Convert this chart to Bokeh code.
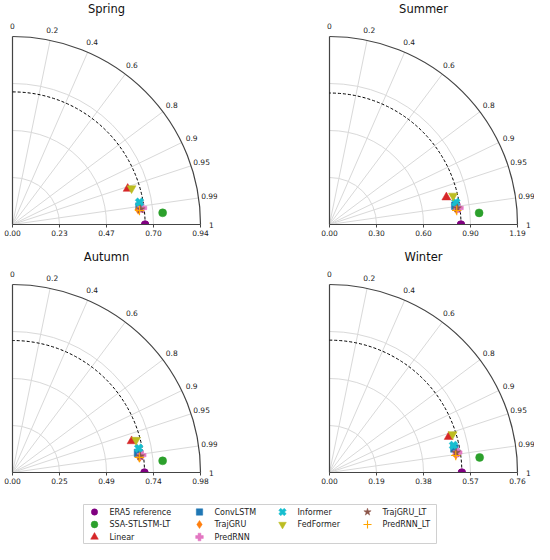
import numpy as np
from bokeh.plotting import figure
from bokeh.layouts import column, row
from bokeh.models import FixedTicker, Range1d
from bokeh.embed import file_html
from bokeh.resources import INLINE
from bokeh.core.properties import value

# ---------------- data ----------------
seasons = ["Spring", "Summer", "Autumn", "Winter"]
std_max = [0.94, 1.194, 0.98, 0.76]
std_tick_labels = [
    ["0.00", "0.23", "0.47", "0.70", "0.94"],
    ["0.00", "0.30", "0.60", "0.90", "1.19"],
    ["0.00", "0.25", "0.49", "0.74", "0.98"],
    ["0.00", "0.19", "0.38", "0.57", "0.76"],
]
corr_grid = [0.2, 0.4, 0.6, 0.8, 0.9, 0.95, 0.99]
corr_label_values = [0.0, 0.2, 0.4, 0.6, 0.8, 0.9, 0.95, 0.99, 1.0]
corr_labels = ["0", "0.2", "0.4", "0.6", "0.8", "0.9", "0.95", "0.99", "1"]

models = ["ERA5   reference", "SSA-STLSTM-LT", "Linear", "ConvLSTM", "TrajGRU",
          "PredRNN", "Informer", "FedFormer", "TrajGRU_LT", "PredRNN_LT"]

std_spring = [0.663, 0.753, 0.603, 0.641, 0.633, 0.654, 0.645, 0.622, 0.645, 0.639]
corr_spring = [1.0, 0.997, 0.955, 0.990, 0.993, 0.992, 0.985, 0.957, 0.993, 0.994]
std_summer = [0.835, 0.953, 0.762, 0.807, 0.812, 0.828, 0.814, 0.806, 0.818, 0.813]
corr_summer = [1.0, 0.997, 0.974, 0.989, 0.993, 0.992, 0.985, 0.974, 0.992, 0.994]
std_autumn = [0.688, 0.785, 0.642, 0.662, 0.667, 0.679, 0.670, 0.666, 0.671, 0.666]
corr_autumn = [1.0, 0.997, 0.967, 0.988, 0.993, 0.991, 0.982, 0.967, 0.992, 0.993]
std_winter = [0.535, 0.610, 0.503, 0.514, 0.516, 0.524, 0.513, 0.521, 0.518, 0.515]
corr_winter = [1.0, 0.995, 0.958, 0.982, 0.990, 0.988, 0.977, 0.955, 0.988, 0.991]

std_all = [std_spring, std_summer, std_autumn, std_winter]
corr_all = [corr_spring, corr_summer, corr_autumn, corr_winter]

# ---------------- styles ----------------
markers = ["circle", "circle", "triangle", "square", "diamond", "plus", "plus",
           "inverted_triangle", "star", "cross"]
colors = ["#800080", "#2ca02c", "#d62728", "#1f77b4", "#ff7f0e", "#e377c2",
          "#17becf", "#bcbd22", "#8c564b", "#ffa500"]
sizes = [7.5, 8, 9, 7.5, 9.5, 9, 9, 9, 9, 9.5]
angles = [0, 0, 0, 0, 0, 0, np.pi / 4, 0, 0, 0]

FONT = "DejaVu Sans"
R = 188          # px radius of diagram
PAD_L, PAD_R, PAD_T, PAD_B = 12, 17, 36, 24
LEFT_W = 317


def add_marker(p, j, x, y, scale=1.0):
    mk = markers[j]
    if mk == "cross":
        return p.scatter(x=x, y=y, marker=mk, size=sizes[j] * scale,
                         line_color=colors[j], line_width=1.1)
    return p.scatter(x=x, y=y, marker=mk, size=sizes[j] * scale, angle=angles[j],
                     fill_color=colors[j], line_color=colors[j], line_width=0.5)


def panel(i, left_col):
    m = std_max[i]
    k = m / R
    fw = PAD_L + R + PAD_R
    p = figure(frame_width=fw, frame_height=PAD_B + R + PAD_T,
               x_range=Range1d(-PAD_L * k, (R + PAD_R) * k),
               y_range=Range1d(-PAD_B * k, (R + PAD_T) * k),
               output_backend="svg", toolbar_location=None,
               y_axis_location=None,
               min_border_left=0, min_border_right=(LEFT_W - fw) if left_col else 0,
               min_border_top=0, min_border_bottom=0)
    p.grid.visible = False
    p.outline_line_color = None
    p.background_fill_color = "white"
    p.border_fill_color = "white"

    # grid arcs at std ticks
    ticks = list(np.linspace(0, m, 5))
    p.arc(x=0, y=0, radius=ticks[1:4], start_angle=0, end_angle=np.pi / 2,
          line_color="#d9d9d9", line_width=1)
    # grid radial lines at correlations
    th = np.arccos(corr_grid)
    p.segment(x0=0, y0=0, x1=m * np.cos(th), y1=m * np.sin(th),
              line_color="#d9d9d9", line_width=1)
    # outer arc and left edge
    p.arc(x=0, y=0, radius=m, start_angle=0, end_angle=np.pi / 2,
          line_color="#444444", line_width=1.2)
    p.segment(x0=[0], y0=[0], x1=[0], y1=[m], line_color="#444444", line_width=1.2)
    # reference std dashed arc
    p.arc(x=0, y=0, radius=std_all[i][0], start_angle=0, end_angle=np.pi / 2,
          line_color="black", line_width=1, line_dash="3 2")

    # correlation labels
    lr = m * (1 + 11 / R)
    tl = np.arccos(corr_label_values)
    p.text(x=lr * np.cos(tl), y=lr * np.sin(tl), text=corr_labels,
           text_font=value(FONT), text_font_size="7.5px", text_color="#222222",
           text_align="center", text_baseline="middle")

    # title
    p.text(x=[m / 2], y=[(R + 28) * k], text=[seasons[i]],
           text_font=value(FONT), text_font_size="11.5px", text_color="#111111",
           text_align="center", text_baseline="middle")

    # model points
    s = np.array(std_all[i])
    c = np.array(corr_all[i])
    xs = s * c
    ys = s * np.sin(np.arccos(c))
    # reference point: cut by the axis (upper half only)
    p.wedge(x=[xs[0]], y=[ys[0]], radius=sizes[0] / 2, radius_units="screen",
            start_angle=0, end_angle=np.pi, fill_color=colors[0], line_color=colors[0])
    for j in range(1, len(models)):
        add_marker(p, j, [xs[j]], [ys[j]])

    # x axis at std = 0 baseline
    ax = p.xaxis[0]
    ax.fixed_location = 0
    ax.bounds = (0, m)
    ax.ticker = FixedTicker(ticks=ticks)
    ax.major_label_overrides = {t: lab for t, lab in zip(ticks, std_tick_labels[i])}
    ax.axis_line_color = "#444444"
    ax.axis_line_width = 1.2
    ax.major_tick_line_color = "#444444"
    ax.major_tick_in = 0
    ax.major_tick_out = 3
    ax.minor_tick_line_color = None
    ax.major_label_standoff = 2
    ax.major_label_text_font = FONT
    ax.major_label_text_font_size = "7.5px"
    ax.major_label_text_color = "#222222"
    return p


f1 = panel(0, True)
f2 = panel(1, False)
f3 = panel(2, True)
f4 = panel(3, False)

# legend figure (matplotlib-like, 4 columns with 3,3,2,2 entries)
LW, LH = 534, 48
lf = figure(frame_width=LW, frame_height=LH, output_backend="svg",
            toolbar_location=None, x_axis_location=None, y_axis_location=None,
            min_border=0, x_range=Range1d(0, LW), y_range=Range1d(LH, 0))
lf.grid.visible = False
lf.outline_line_color = None
lf.quad(left=[83], right=[436], top=[8], bottom=[47], fill_color="white",
        line_color="#d0d0d0", line_width=1)
col_counts = [3, 3, 2, 2]
col_marker_x = [94, 199, 282, 367]
row_y = [15.5, 28, 40.5]
j = 0
for ci, cnt in enumerate(col_counts):
    for ri in range(cnt):
        add_marker(lf, j, [col_marker_x[ci]], [row_y[ri]], scale=0.85)
        lf.text(x=[col_marker_x[ci] + 15], y=[row_y[ri]], text=[models[j]],
                text_font=value(FONT), text_font_size="8px", text_color="#222222",
                text_align="left", text_baseline="middle")
        j += 1

layout = column(row(f1, f2), row(f3, f4), lf)
open("out.html", "w").write(file_html(layout, INLINE))
